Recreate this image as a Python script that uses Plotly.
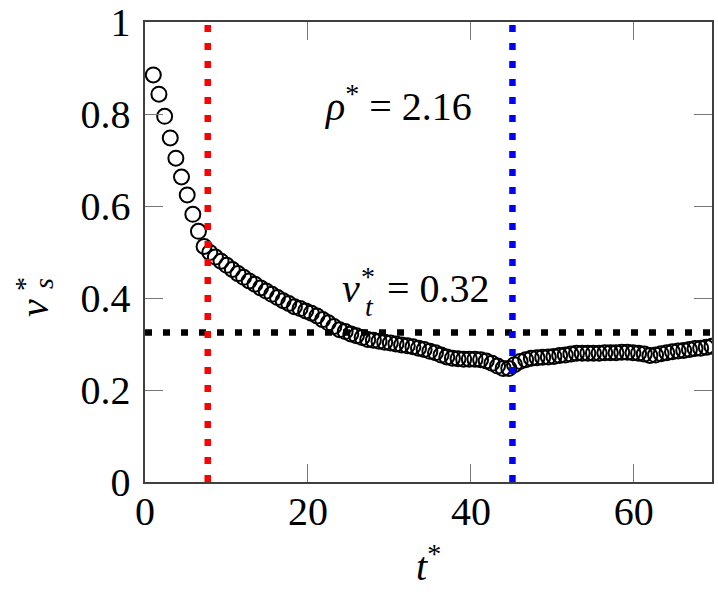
import plotly.graph_objects as go

# ---- data ----
t_star = [1.02, 1.71, 2.41, 3.10, 3.79, 4.48, 5.18, 5.87, 6.56, 7.25,
          7.95, 8.64, 9.33, 10.02, 10.72, 11.41, 12.10, 12.79, 13.49, 14.18,
          14.87, 15.56, 16.26, 16.95, 17.64, 18.34, 19.03, 19.72, 20.41, 21.11,
          21.80, 22.49, 23.18, 23.88, 24.57, 25.26, 25.95, 26.65, 27.34, 28.03,
          28.72, 29.42, 30.11, 30.80, 31.49, 32.19, 32.88, 33.57, 34.26, 34.96,
          35.65, 36.34, 37.04, 37.73, 38.42, 39.11, 39.81, 40.50, 41.19, 41.88,
          42.58, 43.27, 43.96, 44.65, 45.35, 46.04, 46.73, 47.42, 48.12, 48.81,
          49.50, 50.19, 50.89, 51.58, 52.27, 52.96, 53.66, 54.35, 55.04, 55.74,
          56.43, 57.12, 57.81, 58.51, 59.20, 59.89, 60.58, 61.28, 61.97, 62.66,
          63.35, 64.05, 64.74, 65.43, 66.12, 66.82, 67.51, 68.20, 68.89, 69.59]
v_s_star = [0.885, 0.843, 0.795, 0.748, 0.704, 0.663, 0.624, 0.582, 0.545, 0.512,
            0.499, 0.489, 0.480, 0.471, 0.462, 0.453, 0.445, 0.437, 0.430, 0.422,
            0.415, 0.408, 0.401, 0.394, 0.388, 0.381, 0.377, 0.372, 0.367, 0.361,
            0.353, 0.346, 0.338, 0.331, 0.327, 0.322, 0.318, 0.314, 0.310, 0.308,
            0.306, 0.304, 0.302, 0.300, 0.298, 0.296, 0.294, 0.291, 0.288, 0.284,
            0.281, 0.276, 0.272, 0.269, 0.268, 0.267, 0.267, 0.267, 0.266, 0.263,
            0.258, 0.252, 0.247, 0.247, 0.255, 0.262, 0.266, 0.269, 0.270, 0.271,
            0.272, 0.273, 0.275, 0.276, 0.278, 0.280, 0.280, 0.280, 0.280, 0.280,
            0.281, 0.281, 0.281, 0.282, 0.282, 0.281, 0.280, 0.278, 0.275, 0.276,
            0.279, 0.281, 0.283, 0.285, 0.286, 0.288, 0.290, 0.291, 0.293, 0.295]
t_red = 7.7
t_blue = 45.1
v_t = 0.325
x_ticks = [0, 20, 40, 60]
y_ticks = [0, 0.2, 0.4, 0.6, 0.8, 1]
y_tick_labels = ["0", "0.2", "0.4", "0.6", "0.8", "1"]
rho_label = "<i>ρ</i><sup>*</sup> = 2.16"
vt_value_label = "= 0.32"

# figure fills the whole window (page body margin removed after drawing)
W, H = 718, 595
PL, PR, PT, PB = 145, 712, 22, 482          # plot box in pixels
L, R, T, B = PL, W - PR, PT, H - PB
PW, PH = PR - PL, PB - PT


def px(x):
    return (x - PL) / PW


def py(y):
    return (PB - y) / PH


FONT = "Liberation Serif, Times New Roman, serif"
FS = 40
SMALL = 28

fig = go.Figure()

fig.add_trace(go.Scatter(
    x=t_star, y=v_s_star, mode="markers",
    marker=dict(symbol="circle-open", size=15, color="black", line=dict(width=2, color="black")),
    cliponaxis=True, showlegend=False, hoverinfo="skip",
))

dash = "7px,11px"
fig.add_shape(type="line", xref="x", yref="y", x0=0, x1=t_star[-1], y0=v_t, y1=v_t,
              line=dict(color="black", width=6.5, dash=dash))
fig.add_shape(type="line", xref="x", yref="y", x0=t_red, x1=t_red, y0=0, y1=1,
              line=dict(color="#ff0000", width=6.5, dash=dash))
fig.add_shape(type="line", xref="x", yref="y", x0=t_blue, x1=t_blue, y0=0, y1=1,
              line=dict(color="#0000ff", width=6.5, dash=dash))


def text(x, y, s, size=FS, angle=0):
    return dict(x=px(x), y=py(y), xref="paper", yref="paper", text=s, textangle=angle,
                xanchor="center", yanchor="middle", showarrow=False,
                font=dict(family=FONT, size=size, color="black"))


ann = [
    text(398, 104, rho_label),
    # v_t^* = 0.32
    text(351, 288, "<i>v</i>"),
    text(368, 276, "*", SMALL),
    text(369, 306, "<i>t</i>", SMALL),
    text(438, 288, vt_value_label),
    # y-axis title v_s^*
    text(34, 308, "<i>v</i>", angle=-90),
    text(24, 284, "*", SMALL, angle=-90),
    text(43, 284, "<i>s</i>", SMALL, angle=-90),
    # x-axis title t^*
    text(428, 563, "<i>t</i><sup>*</sup>"),
]
fig.update_layout(annotations=ann)

axis_common = dict(showline=True, linecolor="#404040", linewidth=1.6, mirror="allticks",
                   ticks="inside", ticklen=18, tickwidth=1, tickcolor="#777777",
                   showgrid=False, zeroline=False, ticklabeloverflow="allow",
                   tickfont=dict(family=FONT, size=FS, color="black"))

fig.update_xaxes(range=[0, t_star[-1]], tickvals=x_ticks, ticktext=[str(v) for v in x_ticks],
                 ticklabelstandoff=-7, **axis_common)
fig.update_yaxes(range=[0, 1], tickvals=y_ticks, ticktext=y_tick_labels,
                 ticklabelstandoff=5, **axis_common)

fig.update_layout(width=W, height=H, margin=dict(l=L, r=R, t=T, b=B, autoexpand=False),
                  paper_bgcolor="white", plot_bgcolor="white")

fig.write_html("out.html", config={"displayModeBar": False, "staticPlot": True},
               post_script="document.body.style.margin='0px';document.body.style.overflow='hidden';")
